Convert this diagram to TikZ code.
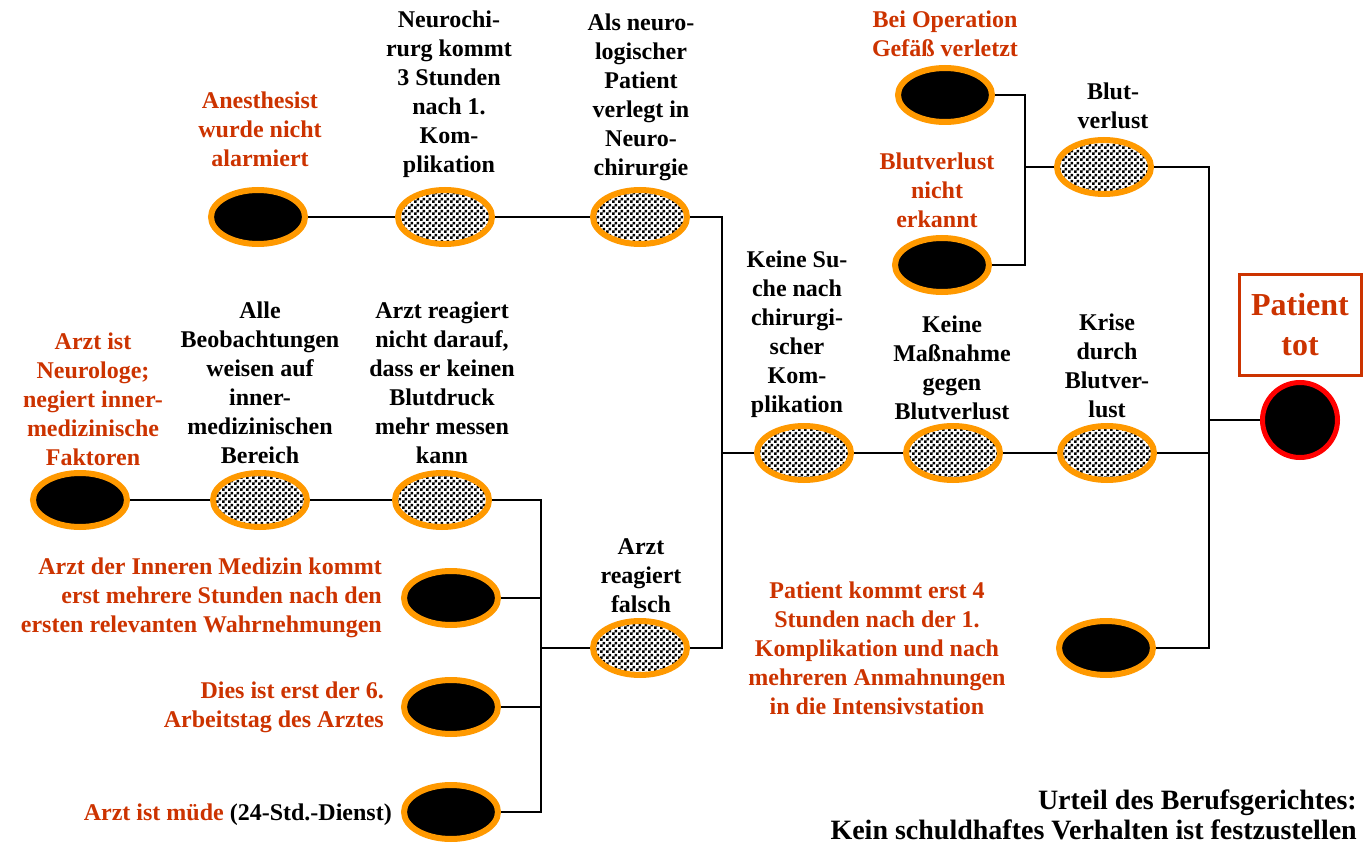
\documentclass[tikz,border=0pt]{standalone}
\usepackage{fontspec}
\setmainfont{Liberation Serif}
\usetikzlibrary{shapes.geometric,patterns}
\definecolor{ringor}{RGB}{255,153,0}
\definecolor{txtred}{RGB}{204,51,0}
\definecolor{deadred}{RGB}{255,0,0}
\pgfdeclarepatternformonly{finechecks}{\pgfpointorigin}{\pgfqpoint{6pt}{6pt}}{\pgfqpoint{6pt}{6pt}}{%
  \pgfpathrectangle{\pgfpointorigin}{\pgfqpoint{3pt}{3pt}}%
  \pgfpathrectangle{\pgfqpoint{3pt}{3pt}}{\pgfqpoint{3pt}{3pt}}%
  \pgfusepath{fill}}
\tikzset{
  event/.style={ellipse, draw=ringor, line width=6pt, minimum width=94pt, minimum height=54pt, inner sep=0pt},
  basicev/.style={event, fill=black},
  midev/.style={event, pattern=finechecks},
  lbl/.style={align=center, inner sep=0pt},
  cause/.style={lbl, text=txtred},
  link/.style={line width=1.2pt}
}

\begin{document}
\begin{tikzpicture}[x=1pt,y=-1pt,font=\bfseries\fontsize{24}{29}\selectfont]
\useasboundingbox (0,0) rectangle (1369,845);

% upper chain
\node[basicev] (a1) at (258,217) {};
\node[midev] (a2) at (445,217) {};
\node[midev] (a3) at (640,217) {};
\node[cause] at (260,129) {Anesthesist\\wurde nicht\\alarmiert};
\node[lbl] at (449,94) {Neurochi-\\rurg kommt\\3 Stunden\\nach 1.\\Kom-\\plikation};
\node[lbl] at (641,97) {Als neuro-\\logischer\\Patient\\verlegt in\\Neuro-\\chirurgie};

% lower chain
\node[basicev] (b1) at (80,500) {};
\node[midev] (b2) at (260,500) {};
\node[midev] (b3) at (442,500) {};
\node[cause] at (93,399) {Arzt ist\\Neurologe;\\negiert inner-\\medizinische\\Faktoren};
\node[lbl] at (260,383) {Alle\\Beobachtungen\\weisen auf\\inner-\\medizinischen\\Bereich};
\node[lbl] at (442,383) {Arzt reagiert\\nicht darauf,\\dass er keinen\\Blutdruck\\mehr messen\\kann};

\node[basicev] (c1) at (451,598) {};
\node[basicev] (c2) at (451,707) {};
\node[basicev] (c3) at (451,812) {};
\node[cause, align=right, anchor=east] at (382,598) {Arzt der Inneren Medizin kommt\\erst mehrere Stunden nach den\\ersten relevanten Wahrnehmungen};
\node[cause, align=right, anchor=east] at (384,707) {Dies ist erst der 6.\\Arbeitstag des Arztes};
\node[lbl, anchor=east] at (392,815) {\textcolor{txtred}{Arzt ist müde} (24-Std.-Dienst)};

\node[midev] (f) at (640,648) {};
\node[lbl] at (641,576) {Arzt\\reagiert\\falsch};

% middle
\node[midev] (k1) at (804,453) {};
\node[midev] (k2) at (953,453) {};
\node[midev] (k3) at (1107,453) {};
\node[lbl] at (797,334) {Keine Su-\\che nach\\chirurgi-\\scher\\Kom-\\plikation};
\node[lbl] at (952,368) {Keine\\Maßnahme\\gegen\\Blutverlust};
\node[lbl] at (1107,366) {Krise\\durch\\Blutver-\\lust};
\node[cause] at (877,648) {Patient kommt erst 4\\Stunden nach der 1.\\Komplikation und nach\\mehreren Anmahnungen\\in die Intensivstation};

% upper right
\node[basicev] (d1) at (945,95) {};
\node[basicev] (d2) at (942,265) {};
\node[midev] (d3) at (1104,167) {};
\node[cause] at (945,34) {Bei Operation\\Gefäß verletzt};
\node[cause] at (937,190) {Blutverlust\\nicht\\erkannt};
\node[lbl] at (1113,106) {Blut-\\verlust};

\node[basicev] (e) at (1106,648) {};

% top event
\node[circle, draw=deadred, fill=black, line width=5pt, minimum size=75pt, inner sep=0pt] (dead) at (1300,420) {};
\node[draw=txtred, line width=3pt, text=txtred, font=\bfseries\fontsize{32}{40}\selectfont, align=center, minimum width=122pt, minimum height=101pt, inner sep=0pt] (tot) at (1300,325) {Patient\\tot};

\node[lbl, align=right, anchor=east, font=\bfseries\fontsize{28}{30}\selectfont] at (1357,815) {Urteil des Berufsgerichtes:\\Kein schuldhaftes Verhalten ist festzustellen};

% junctions
\coordinate (j1) at (722,453);
\coordinate (j2) at (541,648);
\coordinate (j3) at (1025,167);
\coordinate (j4) at (1209,420);

% connectors
\draw[link] (a1) -- (a2);
\draw[link] (a2) -- (a3);
\draw[link] (a3) -| (j1) |- (f);
\draw[link] (j1) -- (k1);
\draw[link] (b1) -- (b2);
\draw[link] (b2) -- (b3);
\draw[link] (b3) -| (j2) |- (c3);
\draw[link] (c1) -| (j2);
\draw[link] (c2) -| (j2);
\draw[link] (j2) -- (f);
\draw[link] (k1) -- (k2);
\draw[link] (k2) -- (k3);
\draw[link] (d1) -| (j3) |- (d2);
\draw[link] (j3) -- (d3);
\draw[link] (d3) -| (j4) |- (e);
\draw[link] (k3) -| (j4);
\draw[link] (j4) -- (dead);
\end{tikzpicture}
\end{document}
